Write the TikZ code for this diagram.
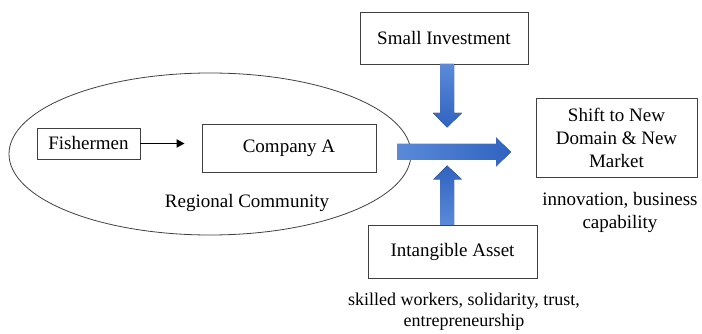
\documentclass[tikz,border=0pt]{standalone}
\usepackage{fontspec}
\setmainfont{Liberation Serif}
\usetikzlibrary{shapes.geometric, arrows.meta}

\definecolor{arrowlight}{HTML}{5B8AD9}
\definecolor{arrowdark}{HTML}{3063C0}

\begin{document}
\begin{tikzpicture}[x=1pt, y=-1pt,
    every node/.style={font=\fontsize{19}{23}\selectfont, align=center},
    block/.style={draw=black!75, line width=0.8pt, inner sep=0pt}]
    \useasboundingbox (0, 0) rectangle (702, 334);

    \node[ellipse, draw=black!75, line width=0.8pt, minimum width=402pt, minimum height=162pt] (region) at (210, 154) {};
    \node (regionlabel) at (247, 203) {Regional Community};

    \node[block, minimum width=103pt, minimum height=31pt] (fisher) at (88.5, 143.5) {Fishermen};
    \node[block, minimum width=174pt, minimum height=48pt] (company) at (289, 148) {Company A};
    \node[block, minimum width=168pt, minimum height=52pt] (invest) at (444, 38) {Small Investment};
    \node[block, minimum width=169pt, minimum height=53pt] (asset) at (452.5, 251.5) {Intangible Asset};
    \node[block, minimum width=161pt, minimum height=79pt] (shift) at (616.5, 137.5) {Shift to New\\Domain \& New\\Market};

    \node (shiftnote) at (620, 212) {innovation, business\\capability};
    \node[font=\fontsize{18}{21}\selectfont] (assetnote) at (464, 312) {skilled workers, solidarity, trust,\\entrepreneurship};

    \draw[line width=1.8pt, -{Triangle[length=8pt, width=8pt]}, shorten >=17pt] (fisher.east) -- (company.west |- fisher.east);

    % blue block arrows
    \fill[top color=arrowlight, bottom color=arrowdark]
        (440, 64) -- (454, 64) -- (454, 113) -- (462, 113) -- (447, 127.5)
        -- (433, 113) -- (440, 113) -- cycle;
    \fill[left color=arrowlight, right color=arrowdark]
        (397, 144) -- (496, 144) -- (496, 137.5) -- (511, 152) -- (496, 166.5)
        -- (496, 160) -- (397, 160) -- cycle;
    \fill[bottom color=arrowlight, top color=arrowdark]
        (440, 225) -- (454, 225) -- (454, 179.5) -- (462, 179.5) -- (447, 165.5)
        -- (433, 179.5) -- (440, 179.5) -- cycle;
\end{tikzpicture}
\end{document}
